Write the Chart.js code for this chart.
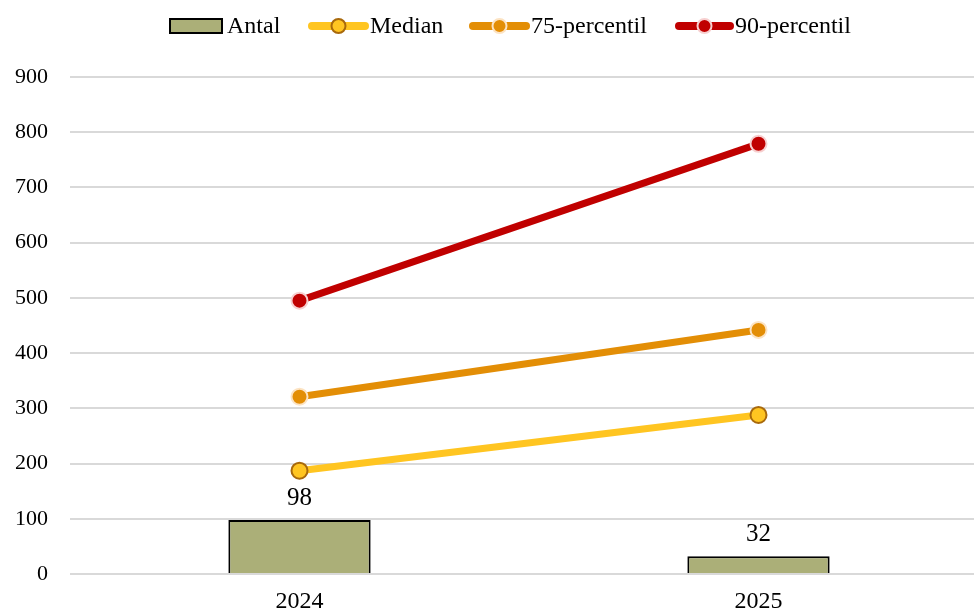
<!DOCTYPE html>
<html>
<head>
<meta charset="utf-8">
<script src="https://cdn.jsdelivr.net/npm/chart.js@4.4.0/dist/chart.umd.min.js"></script>
<style>
  html, body { margin: 0; padding: 0; background: #fff; overflow: hidden; }
  #wrap { width: 998px; height: 612px; }
</style>
</head>
<body>
<div id="wrap"><canvas id="chart" width="998" height="612"></canvas></div>
<script>
// data
const years = ['2024', '2025'];
const antal = [98, 32];
const median = [187, 288];
const p75 = [321, 442];
const p90 = [495, 779];
const yTicks = [0, 100, 200, 300, 400, 500, 600, 700, 800, 900];

const FONT = '"Liberation Serif", "Times New Roman", serif';

const colors = {
    bar: '#ABAF78',
    median: '#FFC521',
    medianEdge: '#A8690C',
    p75: '#E38E06',
    p75Edge: '#FCE3C3',
    p90: '#C00000',
    p90Edge: '#F7CFCF'
};

// values above the bars
const barLabels = {
    id: 'barLabels',
    afterDatasetsDraw(chart) {
        const ctx = chart.ctx;
        const meta = chart.getDatasetMeta(0);
        ctx.save();
        ctx.font = '25px ' + FONT;
        ctx.fillStyle = '#000';
        ctx.textAlign = 'center';
        ctx.textBaseline = 'bottom';
        meta.data.forEach((bar, i) => {
            ctx.fillText(String(antal[i]), bar.x, bar.y - 9);
        });
        ctx.restore();
    }
};

// legend drawn by hand, Excel style
const excelLegend = {
    id: 'excelLegend',
    afterDraw(chart) {
        const ctx = chart.ctx;
        const y = 26;
        ctx.save();
        ctx.font = '24px ' + FONT;
        ctx.textBaseline = 'middle';

        // Antal
        ctx.fillStyle = colors.bar;
        ctx.fillRect(170, 19, 52, 14);
        ctx.strokeStyle = '#000';
        ctx.lineWidth = 2;
        ctx.strokeRect(170, 19, 52, 14);
        ctx.fillStyle = '#000';
        ctx.fillText('Antal', 227, y + 1);

        const items = [
            { x0: 309, x1: 368, label: 'Median', c: colors.median, e: colors.medianEdge },
            { x0: 470, x1: 529, label: '75-percentil', c: colors.p75, e: colors.p75Edge },
            { x0: 676, x1: 733, label: '90-percentil', c: colors.p90, e: colors.p90Edge }
        ];
        items.forEach(it => {
            ctx.strokeStyle = it.c;
            ctx.lineWidth = 8;
            ctx.lineCap = 'round';
            ctx.beginPath();
            ctx.moveTo(it.x0 + 3, y);
            ctx.lineTo(it.x1 - 3, y);
            ctx.stroke();
            ctx.beginPath();
            ctx.arc((it.x0 + it.x1) / 2, y, 7, 0, Math.PI * 2);
            ctx.fillStyle = it.c;
            ctx.fill();
            ctx.lineWidth = 2;
            ctx.strokeStyle = it.e;
            ctx.stroke();
            ctx.fillStyle = '#000';
            ctx.fillText(it.label, it.x1 + 2, y + 1);
        });
        ctx.restore();
    }
};

const lineSet = (label, data, c, e, order) => ({
    type: 'line',
    label: label,
    data: data,
    borderColor: c,
    borderWidth: 7,
    backgroundColor: c,
    pointRadius: 8,
    pointBorderColor: e,
    pointBorderWidth: 2,
    pointBackgroundColor: c,
    tension: 0,
    fill: false,
    order: order
});

new Chart(document.getElementById('chart'), {
    type: 'bar',
    data: {
        labels: years,
        datasets: [
            {
                label: 'Antal',
                data: antal,
                backgroundColor: colors.bar,
                borderColor: '#000',
                borderWidth: 2,
                barPercentage: 0.31,
                categoryPercentage: 1,
                order: 4
            },
            lineSet('Median', median, colors.median, colors.medianEdge, 3),
            lineSet('75-percentil', p75, colors.p75, colors.p75Edge, 2),
            lineSet('90-percentil', p90, colors.p90, colors.p90Edge, 1)
        ]
    },
    options: {
        responsive: false,
        animation: false,
        layout: { padding: { top: 77, left: 12, right: 0, bottom: 0 } },
        plugins: {
            legend: { display: false },
            tooltip: { enabled: false }
        },
        scales: {
            x: {
                grid: { display: false },
                border: { display: false },
                ticks: { color: '#000', font: { family: FONT, size: 24 }, padding: 5 },
                afterFit: (axis) => { axis.height = 38; }
            },
            y: {
                min: 0,
                max: 900,
                afterBuildTicks: (axis) => { axis.ticks = yTicks.map(v => ({ value: v })); },
                afterFit: (axis) => { axis.width = 58; },
                grid: { color: '#D9D9D9', lineWidth: 2, drawTicks: false },
                border: { display: false },
                ticks: { color: '#000', font: { family: FONT, size: 22 }, padding: 22 }
            }
        }
    },
    plugins: [barLabels, excelLegend]
});
</script>
</body>
</html>
